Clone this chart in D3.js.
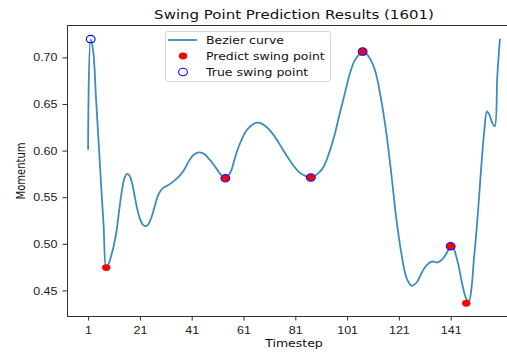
<!DOCTYPE html>
<html>
<head>
<meta charset="utf-8">
<script src="https://cdn.jsdelivr.net/npm/d3@7"></script>
<style>
  html, body { margin: 0; padding: 0; background: #fff; }
  svg { display: block; font-family: 'DejaVu Sans', sans-serif; }
</style>
</head>
<body>
<div id="graf"></div>
<script>
// I.
const timesteps = [1, 2, 3, 4, 5, 6, 7, 8, 9, 10, 11, 12, 13, 14, 15, 16, 17, 18, 19, 20,
  21, 22, 23, 24, 25, 26, 27, 28, 29, 30, 32, 34, 36, 38, 40, 42, 44, 46, 48, 50,
  52, 54, 56, 58, 60, 62, 64, 66, 68, 70, 72, 74, 76, 78, 80, 82, 84, 86, 87, 88,
  90, 92, 94, 96, 98, 100, 102, 104, 106, 107, 108, 110, 112, 114, 116, 118, 120, 122, 124, 126,
  128, 130, 132, 134, 136, 138, 140, 141, 142, 143, 144, 145, 146, 147, 148, 149, 150, 151, 152, 153,
  154, 155, 156, 157, 158, 159, 160]
const momentum = [0.601, 0.719, 0.706, 0.659, 0.612, 0.565, 0.519, 0.474, 0.479, 0.488, 0.499, 0.514, 0.536, 0.556, 0.570, 0.575, 0.573, 0.565, 0.551, 0.537,
  0.527, 0.521, 0.519, 0.520, 0.525, 0.533, 0.543, 0.552, 0.557, 0.560, 0.563, 0.567, 0.572, 0.579, 0.589, 0.596, 0.598, 0.596, 0.590, 0.583,
  0.575, 0.570, 0.577, 0.595, 0.610, 0.621, 0.627, 0.630, 0.629, 0.625, 0.619, 0.611, 0.602, 0.593, 0.585, 0.578, 0.574, 0.5715, 0.571, 0.572,
  0.576, 0.583, 0.597, 0.615, 0.638, 0.660, 0.682, 0.697, 0.704, 0.706, 0.705, 0.698, 0.684, 0.657, 0.622, 0.577, 0.527, 0.489, 0.463, 0.455,
  0.459, 0.470, 0.478, 0.481, 0.480, 0.484, 0.493, 0.498, 0.496, 0.488, 0.477, 0.463, 0.450, 0.441, 0.438, 0.452, 0.485, 0.515, 0.552, 0.590,
  0.622, 0.642, 0.638, 0.630, 0.626, 0.680, 0.720]

const predictT = [8, 54, 87, 107, 141, 147]
const predictV = [0.4745, 0.5703, 0.5712, 0.7062, 0.4974, 0.4362]
const trueT = [2, 54, 87, 107, 141]
const trueV = [0.7196, 0.5703, 0.5712, 0.7062, 0.4974]

const xTicks = [1, 21, 41, 61, 81, 101, 121, 141]
const yTicks = [0.45, 0.50, 0.55, 0.60, 0.65, 0.70]

const legendItems = ['Bezier curve', 'Predict swing point', 'True swing point']

// II. Configuracion
const W = 507, H = 354
const sx = 1.25 // la imagen original esta estirada a lo ancho
const margins = { top: 25.5, left: 67.5, right: 520.5, bottom: 316.5 }

const svg = d3.select('#graf').append('svg')
  .attr('width', W)
  .attr('height', H)

// margen del 5% como matplotlib
const tMin = d3.min(timesteps), tMax = d3.max(timesteps)
const tPad = (tMax - tMin) * 0.05
const allV = momentum.concat(predictV, trueV)
const vMin = d3.min(allV), vMax = d3.max(allV)
const vPad = (vMax - vMin) * 0.05

const x = d3.scaleLinear()
  .domain([tMin - tPad, tMax + tPad])
  .range([margins.left, margins.right])
const y = d3.scaleLinear()
  .domain([vMin - vPad, vMax + vPad])
  .range([margins.bottom, margins.top])

// texto estirado horizontalmente
function stretched(sel, px, py, extra) {
  return sel.attr('transform', `translate(${px},${py}) scale(${sx},1)` + (extra || ''))
}

// III. Ejes
const xAxisGroup = svg.append('g')
  .attr('transform', `translate(0, ${margins.bottom})`)
  .call(d3.axisBottom(x).tickValues(xTicks).tickSize(4).tickSizeOuter(0))
xAxisGroup.select('.domain').remove()
xAxisGroup.selectAll('line').attr('stroke', '#333')
xAxisGroup.selectAll('text')
  .attr('x', null).attr('y', null).attr('dy', null)
  .attr('fill', '#222')
  .style('font-size', '10px')
  .each(function () { stretched(d3.select(this), 0, 17) })

const yAxisGroup = svg.append('g')
  .attr('transform', `translate(${margins.left}, 0)`)
  .call(d3.axisLeft(y).tickValues(yTicks).tickFormat(d3.format('.2f')).tickSize(5).tickSizeOuter(0))
yAxisGroup.select('.domain').remove()
yAxisGroup.selectAll('line').attr('stroke', '#333')
yAxisGroup.selectAll('text')
  .attr('x', null).attr('dy', null)
  .attr('fill', '#222')
  .style('font-size', '10px')
  .each(function () { stretched(d3.select(this), -10, 3.6) })

// marco (el borde derecho queda fuera de la imagen)
svg.append('rect')
  .attr('x', margins.left)
  .attr('y', margins.top)
  .attr('width', margins.right - margins.left)
  .attr('height', margins.bottom - margins.top)
  .attr('fill', 'none')
  .attr('stroke', '#333')
  .attr('stroke-width', 1)

// titulos
stretched(svg.append('text'), (margins.left + margins.right) / 2, 19.3)
  .attr('text-anchor', 'middle')
  .style('font-size', '12px')
  .attr('fill', '#111')
  .text('Swing Point Prediction Results (1601)')

stretched(svg.append('text'), (margins.left + margins.right) / 2, 346.5)
  .attr('text-anchor', 'middle')
  .style('font-size', '10px')
  .attr('fill', '#111')
  .text('Timestep')

stretched(svg.append('text'), 25, (margins.top + margins.bottom) / 2, ' rotate(-90)')
  .attr('text-anchor', 'middle')
  .style('font-size', '10px')
  .attr('fill', '#111')
  .text('Momentum')

// IV. Curva y puntos
const serie = timesteps.map((t, i) => ({ t: t, v: momentum[i] }))
const linea = d3.line()
  .x(d => x(d.t))
  .y(d => y(d.v))
  .curve(d3.curveCatmullRom.alpha(0.5))

svg.append('path')
  .datum(serie)
  .attr('d', linea)
  .attr('fill', 'none')
  .attr('stroke', '#3d8bc2')
  .attr('stroke-width', 1.8)

svg.append('g').selectAll('ellipse')
  .data(predictT.map((t, i) => ({ t: t, v: predictV[i] })))
  .enter().append('ellipse')
  .attr('cx', d => x(d.t))
  .attr('cy', d => y(d.v))
  .attr('rx', 4.2)
  .attr('ry', 3.4)
  .attr('fill', '#ff0000')

svg.append('g').selectAll('ellipse')
  .data(trueT.map((t, i) => ({ t: t, v: trueV[i] })))
  .enter().append('ellipse')
  .attr('cx', d => x(d.t))
  .attr('cy', d => y(d.v))
  .attr('rx', 4.4)
  .attr('ry', 3.7)
  .attr('fill', 'none')
  .attr('stroke', '#0000ff')
  .attr('stroke-width', 1.1)

// V. Leyenda
const leg = svg.append('g')
leg.append('rect')
  .attr('x', 165.5).attr('y', 31.5)
  .attr('width', 165).attr('height', 50)
  .attr('rx', 2.5)
  .attr('fill', '#fff')
  .attr('fill-opacity', 0.8)
  .attr('stroke', '#d6d6d6')

const rowY = [40, 56, 72]
leg.append('line')
  .attr('x1', 168).attr('x2', 197)
  .attr('y1', rowY[0]).attr('y2', rowY[0])
  .attr('stroke', '#3d8bc2').attr('stroke-width', 1.8)
leg.append('ellipse')
  .attr('cx', 183).attr('cy', rowY[1])
  .attr('rx', 4.2).attr('ry', 3.4)
  .attr('fill', '#ff0000')
leg.append('ellipse')
  .attr('cx', 183).attr('cy', rowY[2])
  .attr('rx', 4.4).attr('ry', 3.7)
  .attr('fill', 'none')
  .attr('stroke', '#0000ff').attr('stroke-width', 1.1)

legendItems.forEach((name, i) => {
  stretched(leg.append('text'), 206, rowY[i] + 3.6)
    .style('font-size', '10px')
    .attr('fill', '#111')
    .text(name)
})
</script>
</body>
</html>
